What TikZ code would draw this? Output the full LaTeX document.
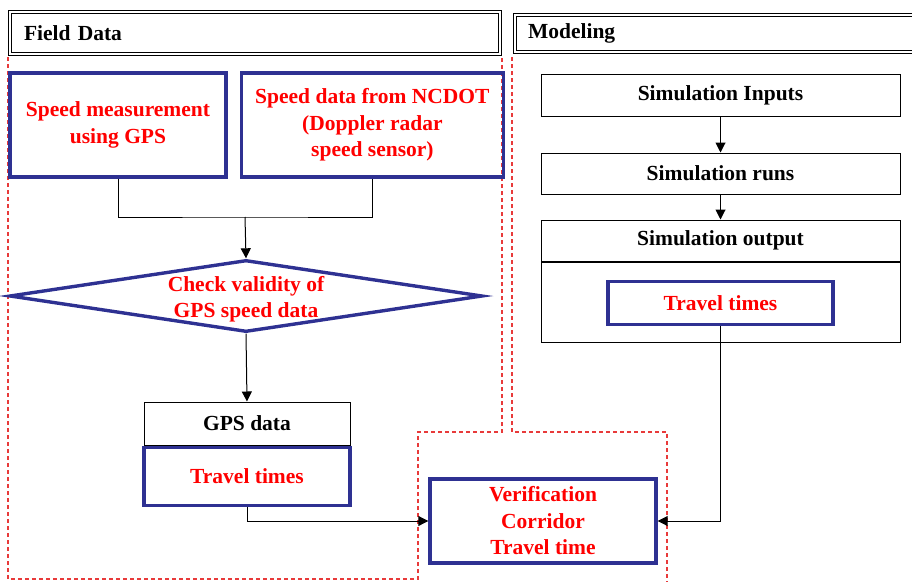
\documentclass[tikz,border=0pt]{standalone}
\usepackage{fontspec}
\setmainfont{Liberation Serif}
\usetikzlibrary{positioning,shapes.geometric,arrows.meta}
\definecolor{boxblue}{RGB}{46,49,146}
\definecolor{txtred}{RGB}{255,0,0}
\definecolor{dashred}{RGB}{232,58,58}
\tikzset{
  every node/.style={font=\fontsize{21.5}{26.5}\selectfont\bfseries, align=center, inner sep=0pt},
  head/.style={draw, double, double distance=2pt, line width=1.4pt, align=left},
  bluebox/.style={draw=boxblue, line width=3.4pt, text=txtred},
  plainbox/.style={draw, line width=1pt, minimum width=359pt},
  decision/.style={diamond, draw=boxblue, line width=3.4pt},
  region/.style={draw=dashred, line width=1.4pt, dash pattern=on 4pt off 3pt},
  flow/.style={line width=1pt, -{Triangle[length=10pt,width=10pt]}},
  link/.style={line width=1pt}
}
\begin{document}
\begin{tikzpicture}[x=1pt,y=-1pt]
  \useasboundingbox (0,0) rectangle (912,581);

  \path[region] (8,57) -- (8,579) -- (418,579) -- (418,432) -- (502,432) -- (502,57);
  \path[region] (512,57) -- (512,432) -- (667,432) -- (667,585);

  \node[head, minimum width=490pt, minimum height=42pt, text width=462pt] (fieldhead) at (255,33) {Field Data};
  \node[head, minimum width=415pt, minimum height=37pt, text width=389pt] (modelhead) at (722.5,33.5) {Modeling};

  \node[bluebox, minimum width=216pt, minimum height=104pt] (gpsmeas) at (118,125) {Speed measurement\\using GPS};
  \node[bluebox, minimum width=262pt, minimum height=104pt, right=12pt of gpsmeas] (ncdot) {Speed data from NCDOT\\(Doppler radar\\speed sensor)};
  \coordinate (join) at (245,217);

  \node[decision, minimum width=473pt, minimum height=72pt] (check) at (246,296) {};
  \node[text=txtred] (checktxt) at (246,299) {Check validity of\\GPS speed data};

  \node[plainbox, minimum width=206pt, minimum height=43pt] (gpsdata) at (247,423.5) {GPS data};
  \node[bluebox, minimum width=206pt, minimum height=58pt, below=0pt of gpsdata] (gpstt) {Travel times};

  \node[bluebox, minimum width=226pt, minimum height=84pt] (verif) at (543,521) {Verification\\Corridor\\Travel time};

  \node[plainbox, minimum height=42pt] (inputs) at (720.5,95) {Simulation Inputs};
  \node[plainbox, minimum height=41pt, below=36pt of inputs] (runs) {Simulation runs};
  \node[plainbox, minimum height=41pt, below=25pt of runs] (outtitle) {Simulation output};
  \node[plainbox, minimum height=80pt, below=0pt of outtitle] (outbody) {};
  \node[bluebox, minimum width=225pt, minimum height=43pt, below=18pt of outtitle] (simtt) {Travel times};

  \draw[link] (gpsmeas.south) |- (join) -| (ncdot.south);
  \draw[flow] (join) -- (check.north);
  \draw[flow] (check.south) -- (gpsdata.north);
  \draw[flow] (gpstt.south) |- (verif.west);
  \draw[flow] (inputs) -- (runs);
  \draw[flow] (runs) -- (outtitle);
  \draw[flow] (simtt.south) |- (verif.east);
\end{tikzpicture}
\end{document}
